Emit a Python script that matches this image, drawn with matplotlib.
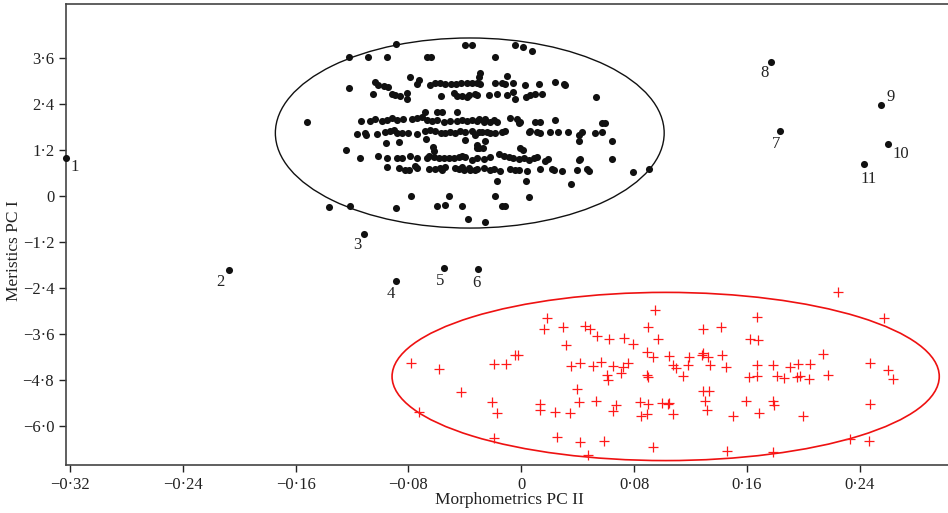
import numpy as np
import matplotlib
matplotlib.use("Agg")
import matplotlib.pyplot as plt
from matplotlib.patches import Ellipse

plt.rcParams["font.family"] = ["Liberation Serif", "DejaVu Serif"]

# Group A (black dots) (PC II, PC I)
band_39 = [(-0.0886, 3.95), (-0.0397, 3.92), (-0.0347, 3.92), (-0.0043, 3.93), (0.0011, 3.89), (0.0076, 3.77)]
band_36 = [(-0.1223, 3.61), (-0.1088, 3.61), (-0.0950, 3.61), (-0.0668, 3.61), (-0.0638, 3.61), (-0.0186, 3.61)]
band_31 = [(-0.0790, 3.11), (-0.0291, 3.20), (-0.0296, 3.11), (-0.0101, 3.13)]
band_29 = [(-0.1219, 2.82), (-0.1038, 2.97), (-0.1013, 2.90), (-0.0976, 2.87), (-0.0946, 2.84), (-0.0726, 3.01),
           (-0.0739, 2.91), (-0.0645, 2.89), (-0.0609, 2.94), (-0.0574, 2.93), (-0.0539, 2.92), (-0.0496, 2.92),
           (-0.0461, 2.92), (-0.0425, 2.94), (-0.0385, 2.94), (-0.0347, 2.94), (-0.0312, 2.93), (-0.0291, 2.92),
           (-0.0184, 2.94), (-0.0137, 2.94), (-0.0113, 2.92), (-0.0057, 2.94), (0.0028, 2.90), (0.0123, 2.92),
           (0.0241, 2.97), (0.0300, 2.92), (0.0312, 2.89)]
band_26 = [(-0.1052, 2.66), (-0.0916, 2.66), (-0.0893, 2.63), (-0.0858, 2.60), (-0.0810, 2.67), (-0.0810, 2.52),
           (-0.0572, 2.60), (-0.0480, 2.67), (-0.0456, 2.60), (-0.0420, 2.61), (-0.0385, 2.59), (-0.0369, 2.63),
           (-0.0326, 2.66), (-0.0312, 2.63), (-0.0232, 2.62), (-0.0174, 2.66), (-0.0101, 2.64), (-0.0055, 2.70),
           (-0.0043, 2.53), (0.0032, 2.58), (0.0064, 2.63), (0.0099, 2.66), (0.0147, 2.66), (0.0532, 2.57)]
band_22 = [(-0.0680, 2.20), (-0.0597, 2.20), (-0.0562, 2.20), (-0.0454, 2.20)]
band_19 = [(-0.1520, 1.92), (-0.1134, 1.95), (-0.1070, 1.95), (-0.1038, 2.01), (-0.0985, 1.95), (-0.0952, 1.99),
           (-0.0918, 2.02), (-0.0879, 1.98), (-0.0840, 2.01), (-0.0775, 2.01), (-0.0739, 2.02), (-0.0704, 2.06),
           (-0.0668, 1.98), (-0.0633, 1.95), (-0.0597, 1.98), (-0.0551, 1.93), (-0.0503, 1.95), (-0.0456, 1.95),
           (-0.0420, 1.98), (-0.0385, 1.95), (-0.0349, 1.98), (-0.0314, 1.95), (-0.0303, 2.01), (-0.0267, 1.93),
           (-0.0255, 2.01), (-0.0220, 1.93), (-0.0196, 1.98), (-0.0172, 1.93), (-0.0078, 2.02), (-0.0030, 2.01),
           (-0.0019, 1.90), (-0.0007, 1.94), (0.0099, 1.93), (0.0135, 1.93), (0.0241, 1.98), (0.0576, 1.89),
           (0.0592, 1.91)]
band_17 = [(-0.1166, 1.61), (-0.1106, 1.65), (-0.1101, 1.59), (-0.1026, 1.61), (-0.0964, 1.67), (-0.0928, 1.69),
           (-0.0905, 1.72), (-0.0882, 1.65), (-0.0846, 1.64), (-0.0806, 1.64), (-0.0739, 1.61), (-0.0680, 1.69),
           (-0.0645, 1.72), (-0.0609, 1.69), (-0.0571, 1.65), (-0.0539, 1.64), (-0.0503, 1.67), (-0.0468, 1.64),
           (-0.0432, 1.69), (-0.0397, 1.67), (-0.0349, 1.69), (-0.0326, 1.59), (-0.0303, 1.67), (-0.0279, 1.67),
           (-0.0243, 1.67), (-0.0220, 1.64), (-0.0184, 1.64), (-0.0137, 1.67), (-0.0113, 1.68), (0.0052, 1.66),
           (0.0064, 1.69), (0.0111, 1.67), (0.0135, 1.64), (0.0206, 1.67), (0.0264, 1.67), (0.0335, 1.67),
           (0.0406, 1.59), (0.0432, 1.67), (0.0524, 1.64), (0.0572, 1.67)]
band_14 = [(-0.0957, 1.37), (-0.0870, 1.41), (-0.0675, 1.48), (-0.0397, 1.46), (-0.0314, 1.33), (-0.0255, 1.43),
           (0.0413, 1.44), (0.0641, 1.42)]
band_12 = [(-0.1240, 1.20), (-0.0629, 1.27), (-0.0617, 1.17), (-0.0314, 1.24), (-0.0303, 1.24), (-0.0271, 1.24),
           (-0.0007, 1.24), (0.0011, 1.20)]
band_10 = [(-0.1146, 0.98), (-0.1017, 1.03), (-0.0952, 0.98), (-0.0882, 0.99), (-0.0846, 0.99), (-0.0787, 1.04),
           (-0.0739, 0.99), (-0.0668, 0.99), (-0.0657, 1.04), (-0.0622, 1.02), (-0.0586, 0.99), (-0.0551, 0.99),
           (-0.0515, 0.99), (-0.0480, 0.99), (-0.0444, 1.02), (-0.0420, 1.04), (-0.0397, 1.02), (-0.0349, 0.94),
           (-0.0314, 0.99), (-0.0267, 0.96), (-0.0220, 1.02), (-0.0161, 1.09), (-0.0125, 1.04), (-0.0090, 1.02),
           (-0.0055, 0.99), (-0.0019, 0.96), (0.0016, 0.99), (0.0052, 0.94), (0.0087, 0.99), (0.0111, 1.02),
           (0.0170, 0.91), (0.0193, 0.96), (0.0406, 0.94), (0.0418, 0.96), (0.0647, 0.96)]
band_07 = [(-0.0952, 0.76), (-0.0870, 0.73), (-0.0822, 0.68), (-0.0799, 0.68), (-0.0751, 0.78), (-0.0739, 0.73),
           (-0.0657, 0.70), (-0.0609, 0.70), (-0.0574, 0.73), (-0.0562, 0.68), (-0.0539, 0.76), (-0.0468, 0.73),
           (-0.0444, 0.70), (-0.0420, 0.76), (-0.0409, 0.68), (-0.0373, 0.73), (-0.0361, 0.68), (-0.0326, 0.68),
           (-0.0314, 0.70), (-0.0267, 0.72), (-0.0220, 0.68), (-0.0196, 0.70), (-0.0149, 0.65), (-0.0078, 0.70),
           (-0.0043, 0.68), (-0.0019, 0.68), (0.0040, 0.65), (0.0135, 0.70), (0.0218, 0.70), (0.0229, 0.68),
           (0.0288, 0.65), (0.0395, 0.68), (0.0466, 0.70), (0.0482, 0.65), (0.0789, 0.63), (0.0904, 0.70)]
band_04 = [(-0.0170, 0.39), (0.0035, 0.39), (0.0354, 0.31)]
band_00 = [(-0.0785, 0.01), (-0.0510, -0.01), (-0.0184, -0.01), (0.0052, -0.03)]
band_m03 = [(-0.1361, -0.29), (-0.1212, -0.27), (-0.0888, -0.30), (-0.0597, -0.26), (-0.0544, -0.23),
            (-0.0420, -0.25), (-0.0137, -0.26), (-0.0117, -0.27)]
band_m06 = [(-0.0381, -0.60), (-0.0259, -0.67)]

# numbered outliers
outlier_pc2 = [-0.3225, -0.2074, -0.1113, -0.0888, -0.0551, -0.0307, 0.1836, 0.1770, 0.2554, 0.2603, 0.2433]
outlier_pc1 = [0.99, -1.93, -0.99, -2.21, -1.88, -1.90, 1.69, 3.49, 2.37, 1.35, 0.84]
outlier_labels = ["1", "2", "3", "4", "5", "6", "7", "8", "9", "10", "11"]
label_offsets = [(8, -9), (-8, -12), (-7, -11), (-5, -13), (-3, -13), (-2, -14),
                 (-4, -13), (-6, -11), (9, 8), (12, -10), (4, -15)]

# Group B (red crosses)
red_pc2 = [-0.0780, -0.0586, -0.0425, -0.0723, -0.0191, -0.0106, -0.0045, -0.0021, -0.0208, -0.0172,
           -0.0191, 0.0182, 0.0163, 0.0293, 0.0449, 0.0489, 0.0539, 0.0622, 0.0730, 0.0792,
           0.0317, 0.0352, 0.0418, 0.0512, 0.0567, 0.0607, 0.0612, 0.0650, 0.0707, 0.0721,
           0.0760, 0.0135, 0.0130, 0.0241, 0.0347, 0.0397, 0.0409, 0.0529, 0.0671, 0.0654,
           0.0257, 0.0416, 0.0590, 0.0475, 0.0843, 0.0902, 0.0848, 0.0895, 0.0891, 0.0933,
           0.0891, 0.0898, 0.0945, 0.0902, 0.0973, 0.0933, 0.2245, 0.2575, 0.1670, 0.1288,
           0.1415, 0.1623, 0.1682, 0.1051, 0.1075, 0.1099, 0.1146, 0.1191, 0.1181, 0.1288,
           0.1281, 0.1327, 0.1335, 0.1422, 0.1453, 0.1618, 0.1670, 0.1670, 0.1784, 0.1812,
           0.1866, 0.1906, 0.1965, 0.1954, 0.1977, 0.2041, 0.2048, 0.2142, 0.2178, 0.2473,
           0.2603, 0.2639, 0.1292, 0.1332, 0.1304, 0.1320, 0.0997, 0.1051, 0.1044, 0.1075,
           0.1500, 0.1595, 0.1689, 0.1788, 0.1793, 0.2001, 0.2473, 0.1458, 0.1784, 0.2332,
           0.2464]
red_pc1 = [-4.34, -4.51, -5.10, -5.63, -4.38, -4.38, -4.14, -4.14, -5.36, -5.66,
           -6.29, -3.17, -3.46, -3.41, -3.39, -3.47, -3.65, -3.72, -3.71, -3.85,
           -3.89, -4.43, -4.36, -4.43, -4.32, -4.66, -4.79, -4.42, -4.60, -4.46,
           -4.36, -5.42, -5.57, -5.63, -5.64, -5.03, -5.37, -5.35, -5.43, -5.59,
           -6.28, -6.40, -6.38, -6.74, -5.37, -5.42, -5.72, -5.68, -4.05, -4.20,
           -4.66, -4.72, -2.97, -3.42, -3.73, -6.54, -2.49, -3.18, -3.16, -3.46,
           -3.40, -3.72, -3.75, -4.16, -4.40, -4.49, -4.69, -4.20, -4.40, -4.08,
           -4.14, -4.20, -4.40, -4.14, -4.45, -4.71, -4.69, -4.40, -4.41, -4.69,
           -4.73, -4.45, -4.38, -4.71, -4.69, -4.77, -4.38, -4.12, -4.66, -4.36,
           -4.53, -4.77, -5.08, -5.08, -5.34, -5.57, -5.38, -5.38, -5.42, -5.68,
           -5.72, -5.33, -5.64, -5.33, -5.44, -5.73, -5.42, -6.63, -6.67, -6.34,
           -6.39]

# ellipses: (centre PC II, centre PC I, width, height)
ellipse_a = (-0.0365, 1.64, 0.2757, 4.95)
ellipse_b = (0.1024, -4.70, 0.388, 4.38)

xticks = [-0.32, -0.24, -0.16, -0.08, 0, 0.08, 0.16, 0.24]
xtick_labels = ["\u22120\u00b732", "\u22120\u00b724", "\u22120\u00b716", "\u22120\u00b708",
                "0", "0\u00b708", "0\u00b716", "0\u00b724"]
yticks = [3.6, 2.4, 1.2, 0, -1.2, -2.4, -3.6, -4.8, -6.0]
ytick_labels = ["3\u00b76", "2\u00b74", "1\u00b72", "0", "\u22121\u00b72", "\u22122\u00b74",
                "\u22123\u00b76", "\u22124\u00b78", "\u22126\u00b70"]


def main():
    bands = [band_39, band_36, band_31, band_29, band_26, band_22, band_19, band_17, band_14,
             band_12, band_10, band_07, band_04, band_00, band_m03, band_m06]
    pts = np.array([p for b in bands for p in b])

    fig = plt.figure(figsize=(9.48, 5.13), dpi=100)
    ax = fig.add_axes([66 / 948, 48 / 513, 882 / 948, 461 / 513])

    ax.scatter(pts[:, 0], pts[:, 1], s=26, c="#111111", linewidths=0, zorder=3)
    ax.scatter(outlier_pc2, outlier_pc1, s=26, c="#111111", linewidths=0, zorder=3, clip_on=False)
    ax.scatter(red_pc2, red_pc1, s=45, marker="+", c="#ff1a1a", linewidths=0.9, zorder=3)

    for x, y, lab, off in zip(outlier_pc2, outlier_pc1, outlier_labels, label_offsets):
        ax.annotate(lab, (x, y), xytext=off, textcoords="offset pixels",
                    ha="center", va="center", fontsize=12, color="#222222")

    cx, cy, w, h = ellipse_a
    ax.add_patch(Ellipse((cx, cy), w, h, fill=False, ec="#111111", lw=1.0, zorder=2))
    cx, cy, w, h = ellipse_b
    ax.add_patch(Ellipse((cx, cy), w, h, fill=False, ec="#ee1111", lw=1.2, zorder=2))

    ax.set_xlim(-0.3228, 0.3026)
    ax.set_ylim(-7.005, 5.0)
    ax.set_xticks(xticks)
    ax.set_xticklabels(xtick_labels)
    ax.set_yticks(yticks)
    ax.set_yticklabels(ytick_labels)
    ax.tick_params(direction="out", length=5, width=1, labelsize=12, colors="#222222")
    for sp in ax.spines.values():
        sp.set_linewidth(1.2)
        sp.set_color("#444444")
    ax.spines["right"].set_visible(False)

    ax.set_xlabel("Morphometrics PC II", fontsize=12.5, color="#222222")
    ax.set_ylabel("Meristics PC I", fontsize=12.5, color="#222222")
    ax.xaxis.set_label_coords(0.503, -0.058)
    ax.yaxis.set_label_coords(-0.05, 0.466)

    fig.savefig("out.png", dpi=100)
    plt.close(fig)


if __name__ == "__main__":
    main()
